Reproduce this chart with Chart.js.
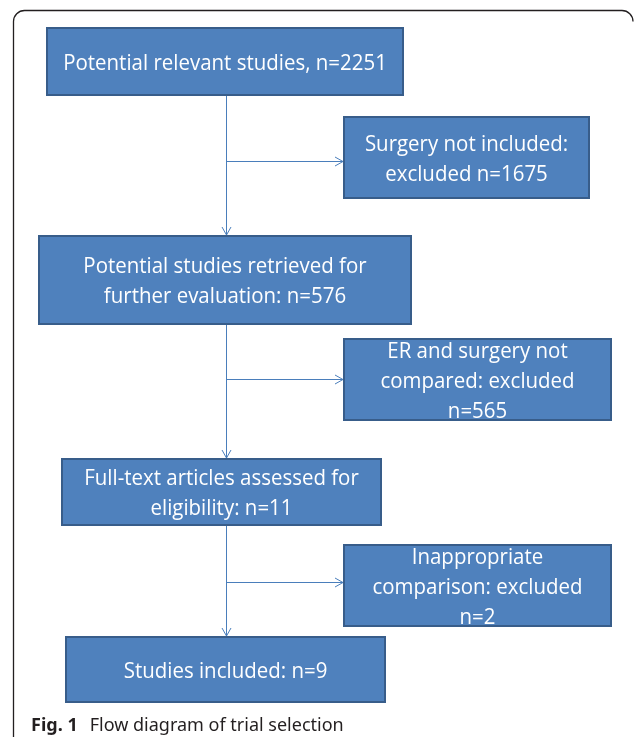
<!DOCTYPE html>
<html>
<head>
<meta charset="utf-8">
<script src="https://cdn.jsdelivr.net/npm/chart.js@4"></script>
<style>
  html, body { margin: 0; padding: 0; background: #ffffff; }
  #wrap { width: 634px; height: 737px; }
</style>
</head>
<body>
<div id="wrap"><canvas id="c" width="634" height="737"></canvas></div>
<script>
// ---- data ----
const stageLabels = ["Potential relevant studies", "Potential studies retrieved for further evaluation", "Full-text articles assessed for eligibility", "Studies included"];
const stageCounts = [2251, 576, 11, 9];
const exclusionLabels = ["Surgery not included", "ER and surgery not compared", "Inappropriate comparison"];
const exclusionCounts = [1675, 565, 2];
const captionBold = "Fig. 1";
const captionText = "Flow diagram of trial selection";

// ---- text lines per box (line breaks as in the figure) ----
const boxLines = [
  ["Potential relevant studies, n=" + stageCounts[0]],
  ["Surgery not included:", "excluded n=" + exclusionCounts[0]],
  ["Potential studies retrieved for", "further evaluation: n=" + stageCounts[1]],
  ["ER and surgery not", "compared: excluded", "n=" + exclusionCounts[1]],
  ["Full-text articles assessed for", "eligibility: n=" + stageCounts[2]],
  ["Inappropriate", "comparison: excluded", "n=" + exclusionCounts[2]],
  ["Studies included: n=" + stageCounts[3]]
];

// ---- layout (positions in scale units) ----
const boxRects = [
  [46, 27, 404, 96],
  [343, 116, 590, 199],
  [38, 235, 412, 325],
  [343, 338, 612, 421],
  [61, 458, 382, 526],
  [343, 544, 612, 627],
  [65, 636, 386, 703]
];
const spineX = 226;
const branchY = [161, 379, 582];

const flowPlugin = {
  id: 'flow',
  afterDraw(chart) {
    const ctx = chart.ctx;
    const xs = chart.scales.x, ys = chart.scales.y;
    const X = v => xs.getPixelForValue(v);
    const Y = v => ys.getPixelForValue(v);
    ctx.save();

    // outer frame (top + left, rounded corners)
    ctx.strokeStyle = '#231f20';
    ctx.lineWidth = 1.3;
    ctx.beginPath();
    ctx.moveTo(X(13.5), Y(737));
    ctx.lineTo(X(13.5), Y(22));
    ctx.arcTo(X(13.5), Y(10.5), X(25), Y(10.5), 11);
    ctx.lineTo(X(621), Y(10.5));
    ctx.arcTo(X(633), Y(10.5), X(633), Y(22), 11);
    ctx.stroke();

    // connectors
    ctx.strokeStyle = '#4a7ebb';
    ctx.lineWidth = 1;
    const vArrow = (x, y0, y1) => {
      ctx.beginPath();
      ctx.moveTo(X(x) + 0.5, Y(y0));
      ctx.lineTo(X(x) + 0.5, Y(y1));
      ctx.moveTo(X(x) + 0.5 - 4.5, Y(y1) - 8);
      ctx.lineTo(X(x) + 0.5, Y(y1));
      ctx.lineTo(X(x) + 0.5 + 4.5, Y(y1) - 8);
      ctx.stroke();
    };
    const hArrow = (y, x0, x1) => {
      ctx.beginPath();
      ctx.moveTo(X(x0), Y(y) + 0.5);
      ctx.lineTo(X(x1), Y(y) + 0.5);
      ctx.moveTo(X(x1) - 8, Y(y) + 0.5 - 4.5);
      ctx.lineTo(X(x1), Y(y) + 0.5);
      ctx.lineTo(X(x1) - 8, Y(y) + 0.5 + 4.5);
      ctx.stroke();
    };
    vArrow(spineX, boxRects[0][3], boxRects[2][1]);
    vArrow(spineX, boxRects[2][3], boxRects[4][1]);
    vArrow(spineX, boxRects[4][3], boxRects[6][1]);
    hArrow(branchY[0], spineX, boxRects[1][0]);
    hArrow(branchY[1], spineX, boxRects[3][0]);
    hArrow(branchY[2], spineX, boxRects[5][0]);

    // boxes
    boxRects.forEach((r, i) => {
      const x0 = X(r[0]), y0 = Y(r[1]), x1 = X(r[2]), y1 = Y(r[3]);
      ctx.fillStyle = '#4f81bd';
      ctx.fillRect(x0, y0, x1 - x0, y1 - y0);
      ctx.strokeStyle = '#385d8a';
      ctx.lineWidth = 2;
      ctx.strokeRect(x0 + 1, y0 + 1, x1 - x0 - 2, y1 - y0 - 2);

      const lines = boxLines[i];
      const lh = 30;
      const cx = (x0 + x1) / 2, cy = (y0 + y1) / 2;
      ctx.fillStyle = '#ffffff';
      ctx.font = '22px "Open Sans"';
      ctx.textAlign = 'center';
      ctx.textBaseline = 'middle';
      lines.forEach((t, k) => {
        const ty = cy + (k - (lines.length - 1) / 2) * lh + 2;
        ctx.save();
        ctx.translate(cx, ty);
        ctx.scale(0.93, 1);
        ctx.fillText(t, 0, 0);
        ctx.restore();
      });
    });

    // caption
    ctx.fillStyle = '#231f20';
    ctx.textAlign = 'left';
    ctx.textBaseline = 'alphabetic';
    ctx.font = 'bold 18px "Noto Sans"';
    ctx.fillText(captionBold, X(31), Y(731));
    const bw = ctx.measureText(captionBold).width;
    ctx.font = '18px "Noto Sans"';
    ctx.fillText(captionText, X(31) + bw + 12, Y(731));
    ctx.restore();
  }
};

new Chart(document.getElementById('c'), {
  type: 'scatter',
  data: { datasets: [{ data: [], pointRadius: 0 }] },
  options: {
    responsive: false,
    animation: false,
    devicePixelRatio: 1,
    layout: { padding: 0 },
    scales: {
      x: { type: 'linear', min: 0, max: 634, display: false },
      y: { type: 'linear', min: 0, max: 737, reverse: true, display: false }
    },
    plugins: { legend: { display: false }, tooltip: { enabled: false } }
  },
  plugins: [flowPlugin]
});
</script>
</body>
</html>
